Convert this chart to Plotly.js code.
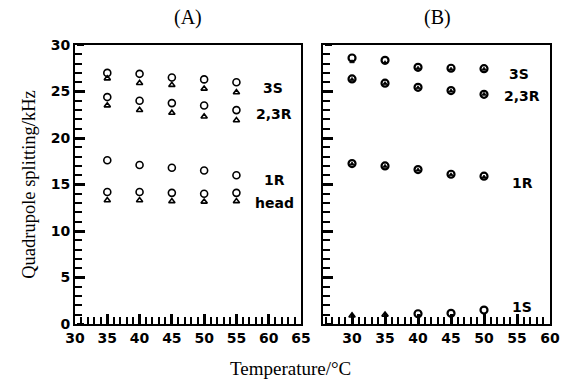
<!DOCTYPE html>
<html>
<head>
<meta charset="utf-8">
<script src="https://cdn.plot.ly/plotly-3.0.1.min.js"></script>
<style>html,body{margin:0;padding:0;background:#fff;}#chart{width:564px;height:385px;}</style>
</head>
<body>
<div id="chart"></div>
<script>
// ---- Data ----
const tempsA = [35, 40, 45, 50, 55];
const a3S_circle   = [27.0, 26.9, 26.5, 26.3, 26.0];
const a3S_tri      = [26.4, 25.9, 25.7, 25.3, 24.9];
const a23R_circle  = [24.4, 24.0, 23.75, 23.5, 23.0];
const a23R_tri     = [23.5, 23.0, 22.7, 22.3, 21.9];
const a1R_circle   = [17.6, 17.1, 16.8, 16.5, 16.0];
const aHead_circle = [14.2, 14.2, 14.1, 14.0, 14.1];
const aHead_tri    = [13.3, 13.3, 13.2, 13.15, 13.2];

const tempsB = [30, 35, 40, 45, 50];
const b3S_circle  = [28.6, 28.35, 27.6, 27.5, 27.45];
const b3S_tri     = [28.2, 28.1, 27.5, 27.4, 27.4];
const b23R_circle = [26.35, 25.9, 25.45, 25.1, 24.7];
const b23R_tri    = [26.3, 25.85, 25.4, 25.05, 24.7];
const b1R_circle  = [17.25, 17.0, 16.6, 16.1, 15.9];
const b1R_tri     = [17.2, 16.95, 16.55, 16.05, 15.8];
const b1S_circle  = [null, null, 1.1, 1.15, 1.5];
const b1S_tri     = [0.9, 1.0, null, null, null];

const seriesLabelsA = ['3S', '2,3R', '1R', 'head'];
const seriesLabelsB = ['3S', '2,3R', '1R', '1S'];

// ---- Styles ----
const circA = {symbol: 'circle-open', size: 7, color: '#000', line: {width: 1.6, color: '#000'}};
const triA  = {symbol: 'triangle-up-open', size: 5.5, color: '#000', line: {width: 1.6, color: '#000'}};
const circB = {symbol: 'circle-open', size: 7, color: '#000', line: {width: 2.2, color: '#000'}};
const triB  = {symbol: 'triangle-up', size: 4, color: '#000', line: {width: 0.8, color: '#000'}};

function tr(x, y, marker, xa, ya, name) {
  return {x: x, y: y, type: 'scatter', mode: 'markers', marker: marker,
          xaxis: xa, yaxis: ya, name: name, showlegend: false, hoverinfo: 'x+y'};
}

const data = [
  tr(tempsA, a3S_circle, circA, 'x', 'y', '3S'),
  tr(tempsA, a3S_tri, triA, 'x', 'y', '3S'),
  tr(tempsA, a23R_circle, circA, 'x', 'y', '2,3R'),
  tr(tempsA, a23R_tri, triA, 'x', 'y', '2,3R'),
  tr(tempsA, a1R_circle, circA, 'x', 'y', '1R'),
  tr(tempsA, aHead_circle, circA, 'x', 'y', 'head'),
  tr(tempsA, aHead_tri, triA, 'x', 'y', 'head'),
  tr(tempsB, b3S_circle, circB, 'x2', 'y2', '3S'),
  tr(tempsB, b3S_tri, triB, 'x2', 'y2', '3S'),
  tr(tempsB, b23R_circle, circB, 'x2', 'y2', '2,3R'),
  tr(tempsB, b23R_tri, triB, 'x2', 'y2', '2,3R'),
  tr(tempsB, b1R_circle, circB, 'x2', 'y2', '1R'),
  tr(tempsB, b1R_tri, triB, 'x2', 'y2', '1R'),
  tr(tempsB, b1S_circle, circB, 'x2', 'y2', '1S'),
  tr(tempsB, b1S_tri, triA, 'x2', 'y2', '1S'),
  // empty traces so the tick-only overlay axes are drawn
  {x: [], y: [], type: 'scatter', mode: 'markers', xaxis: 'x', yaxis: 'y3', showlegend: false, hoverinfo: 'skip'},
  {x: [], y: [], type: 'scatter', mode: 'markers', xaxis: 'x2', yaxis: 'y4', showlegend: false, hoverinfo: 'skip'}
];

const tickFont = {family: 'DejaVu Sans, sans-serif', size: 14, color: '#000', weight: 700};
const serifY = {family: 'Liberation Serif, Times New Roman, serif', size: 18.5, color: '#000'};
const serifX = {family: 'Liberation Serif, Times New Roman, serif', size: 19, color: '#000'};
const serifPanel = {family: 'Liberation Serif, Times New Roman, serif', size: 20, color: '#000'};
const labelFont = {family: 'DejaVu Sans, sans-serif', size: 14, color: '#000', weight: 700};

const W = 564, H = 385;
const yDom = [(H - 324) / H, (H - 45) / H];

const minorTicks = {dtick: 1, tick0: 0, ticks: 'inside', ticklen: 7, tickwidth: 2, tickcolor: 'rgb(0,0,0)', showgrid: false};

function xaxisCommon(range, domain, anchor) {
  return {
    domain: domain, range: range, anchor: anchor,
    showline: true, linecolor: '#000', linewidth: 2, mirror: true,
    showgrid: false, zeroline: false,
    ticks: 'inside', ticklen: 10, tickwidth: 2.5, tickcolor: 'rgb(0,0,0)',
    tickmode: 'linear', dtick: 5, tick0: 30, tickfont: tickFont,
    minor: minorTicks
  };
}
function yaxisCommon(domain, anchor, showLabels) {
  return {
    domain: domain, range: [0, 30], anchor: anchor,
    showline: true, linecolor: '#000', linewidth: 2, mirror: true,
    showgrid: false, zeroline: false,
    ticks: 'inside', ticklen: 10, tickwidth: 2.5, tickcolor: 'rgb(0,0,0)',
    tickmode: 'linear', dtick: 5, tick0: 0, tickfont: tickFont, showticklabels: showLabels,
    minor: minorTicks
  };
}
// tick-only overlay y axis sitting on the left frame, ticks pointing into the panel
function yTickOverlay(over, pos) {
  return {
    overlaying: over, side: 'right', anchor: 'free', position: pos,
    domain: yDom, range: [0, 30], showline: false, showgrid: false, zeroline: false,
    showticklabels: false, ticks: 'outside', ticklen: 7, tickwidth: 2, tickcolor: '#000',
    tickmode: 'linear', dtick: 5, tick0: 0,
    minor: {dtick: 1, tick0: 0, ticks: 'outside', ticklen: 4, tickwidth: 1.5, tickcolor: '#000', showgrid: false}
  };
}

const xa = xaxisCommon([30, 65], [75 / W, 301 / W], 'y');
const xb = xaxisCommon([25.6, 60], [323 / W, 550 / W], 'y2');
const ya = yaxisCommon(yDom, 'x', true);
ya.title = {text: 'Quadrupole splitting/kHz', font: serifY, standoff: 10};
const yb = yaxisCommon(yDom, 'x2', false);
const y3 = yTickOverlay('y', 76 / W);
const y4 = yTickOverlay('y2', 324 / W);

const labelPosA = {x: [58.8, 57.7, 59.0, 57.5], y: [25.4, 22.6, 15.5, 13.0]};
const labelPosB = {x: [53.5, 52.7, 54.0, 54.0], y: [26.9, 24.5, 15.2, 1.8]};

const annotations = [];
seriesLabelsA.forEach((t, i) => annotations.push({
  text: t, x: labelPosA.x[i], y: labelPosA.y[i], xref: 'x', yref: 'y',
  xanchor: 'left', yanchor: 'middle', showarrow: false, font: labelFont
}));
seriesLabelsB.forEach((t, i) => annotations.push({
  text: t, x: labelPosB.x[i], y: labelPosB.y[i], xref: 'x2', yref: 'y2',
  xanchor: 'left', yanchor: 'middle', showarrow: false, font: labelFont
}));
annotations.push({text: '(A)', x: 188 / W, y: (H - 17) / H, xref: 'paper', yref: 'paper',
  xanchor: 'center', yanchor: 'middle', showarrow: false, font: serifPanel});
annotations.push({text: '(B)', x: 437 / W, y: (H - 17) / H, xref: 'paper', yref: 'paper',
  xanchor: 'center', yanchor: 'middle', showarrow: false, font: serifPanel});
annotations.push({text: 'Temperature/°C', x: 290 / W, y: (H - 368) / H, xref: 'paper', yref: 'paper',
  xanchor: 'center', yanchor: 'middle', showarrow: false, font: serifX});

const layout = {
  width: W, height: H,
  margin: {l: 0, r: 0, t: 0, b: 0},
  paper_bgcolor: '#fff', plot_bgcolor: '#fff',
  showlegend: false,
  xaxis: xa, yaxis: ya, xaxis2: xb, yaxis2: yb, yaxis3: y3, yaxis4: y4,
  annotations: annotations
};

Plotly.newPlot('chart', data, layout, {displayModeBar: false});
</script>
</body>
</html>
